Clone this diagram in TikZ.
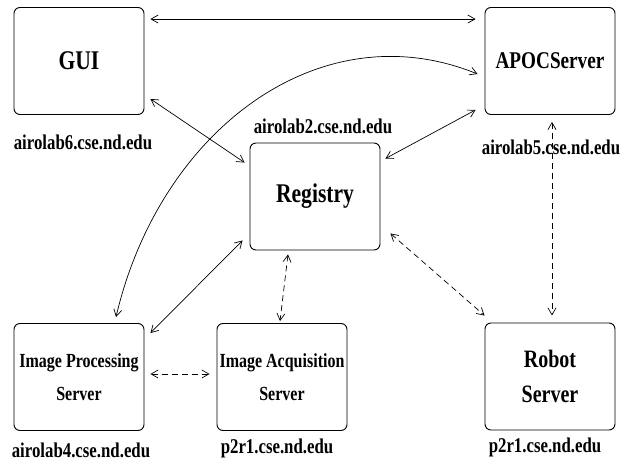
\documentclass[tikz,border=0pt]{standalone}
\usepackage{fontspec}
\setmainfont{Liberation Serif}[FakeStretch=0.8]
\usetikzlibrary{arrows.meta,calc}
\begin{document}
\begin{tikzpicture}[x=1pt,y=-1pt,
  box/.style={draw,line width=0.9pt,rounded corners=6pt,minimum width=130pt,minimum height=107pt,inner sep=0pt,align=center,font=\bfseries},
  host/.style={font=\fontsize{21}{24}\selectfont\bfseries,inner sep=0pt},
  conn/.style={line width=0.7pt,{Straight Barb[length=7pt,width=8pt]}-{Straight Barb[length=7pt,width=8pt]}},
  dconn/.style={conn,dash pattern=on 6pt off 4pt}]
\useasboundingbox (0,0) rectangle (621,462);
\node[box,font=\fontsize{27}{30}\selectfont\bfseries] (GUI) at (79,61) {GUI};
\node[box,font=\fontsize{24}{28}\selectfont\bfseries] (APOC) at (550,61) {APOCServer};
\node[box,font=\fontsize{27}{30}\selectfont\bfseries] (REG) at (315,196.5) {Registry};
\node[box,font=\fontsize{20}{33}\selectfont\bfseries] (IP) at (79,377) {Image Processing\\Server};
\node[box,font=\fontsize{20}{33}\selectfont\bfseries] (IA) at (282,377) {Image Acquisition\\Server};
\node[box,font=\fontsize{25}{35}\selectfont\bfseries] (RS) at (550,376.5) {Robot\\Server};
\node[host] (h6) at (83,142) {airolab6.cse.nd.edu};
\node[host] (h2) at (323,126) {airolab2.cse.nd.edu};
\node[host] (h5) at (551,147) {airolab5.cse.nd.edu};
\node[host] (h4) at (81,450) {airolab4.cse.nd.edu};
\node[host] (hA) at (277,448) {p2r1.cse.nd.edu};
\node[host] (hR) at (545,447) {p2r1.cse.nd.edu};
\draw[conn] ([shift={(6,12)}]GUI.north east) -- ([shift={(-9,12)}]APOC.north west);
\draw[conn] ([shift={(6,-16)}]GUI.south east) -- ([shift={(-5,20)}]REG.north west);
\draw[conn] ([shift={(-9,-5)}]APOC.south west) -- ([shift={(5,16)}]REG.north east);
\draw[conn] ([shift={(37,-6)}]IP.north) .. controls (160,130) and (320,10) .. ([shift={(-7,13)}]APOC.west);
\draw[conn] ([shift={(-7,-10)}]REG.south west) -- ([shift={(6,10)}]IP.north east);
\draw[dconn] ([shift={(-27,4)}]REG.south) -- ([shift={(-2,-2)}]IA.north);
\draw[dconn] ([shift={(6,-3)}]IP.east) -- ([shift={(-7,-3)}]IA.west);
\draw[dconn] ([shift={(10,-17)}]REG.south east) -- ([shift={(0,-7)}]RS.north west);
\draw[dconn] ([shift={(2,7)}]APOC.south) -- ([shift={(2,-7)}]RS.north);
\end{tikzpicture}
\end{document}
